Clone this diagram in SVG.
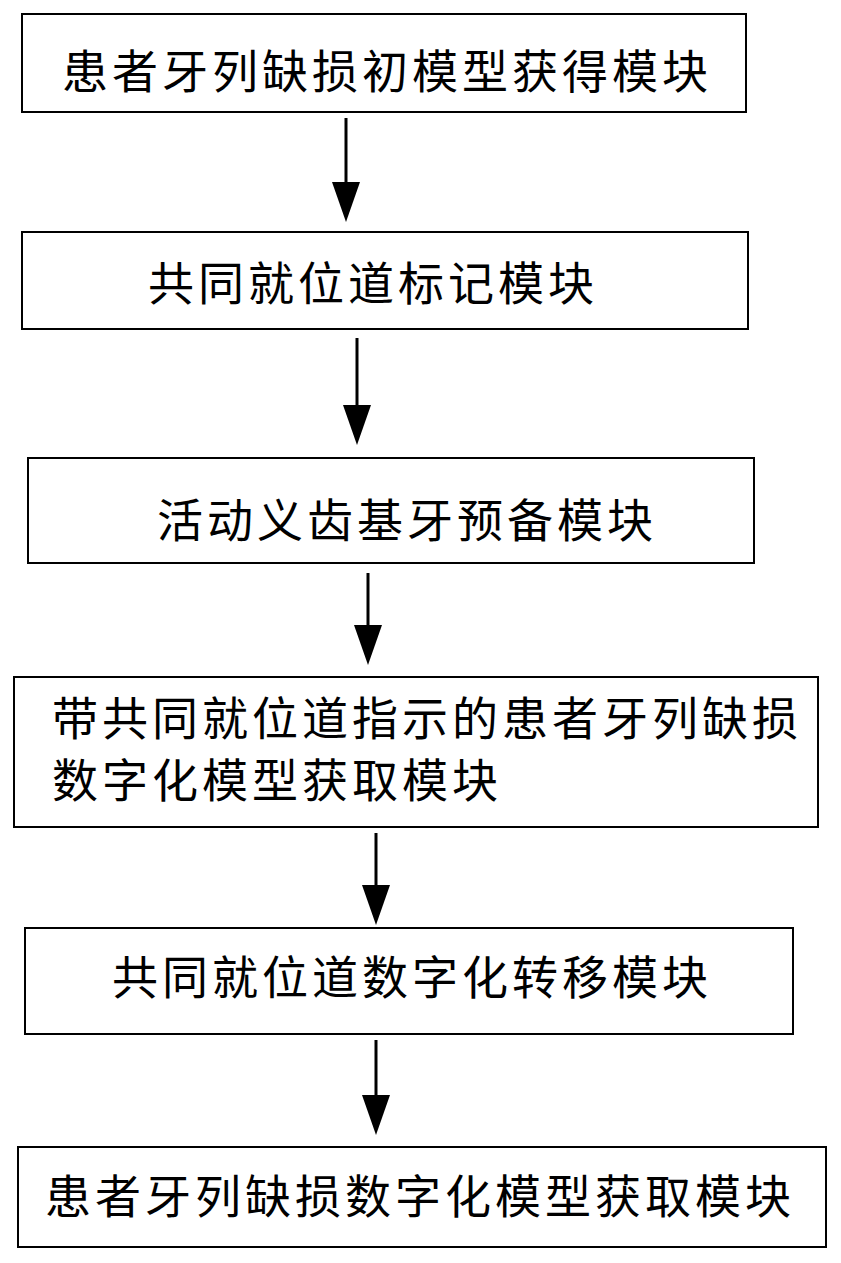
<svg xmlns="http://www.w3.org/2000/svg" width="841" height="1263" viewBox="0 0 841 1263">
<style>
rect{fill:#fff;stroke:#000;stroke-width:2}
text{font-family:"Noto Sans CJK SC","Liberation Sans",sans-serif;font-size:46px;letter-spacing:4px;fill:#000}
line{stroke:#000;stroke-width:3}
polygon{fill:#000}
</style>
<rect x="0" y="0" width="841" height="1263" style="stroke:none"/>
<g id="n1"><rect x="22" y="14" width="724" height="98"/><text x="62" y="88">患者牙列缺损初模型获得模块</text></g>
<g id="n2"><rect x="22" y="232" width="726" height="97"/><text x="148" y="300">共同就位道标记模块</text></g>
<g id="n3"><rect x="28" y="458" width="726" height="105"/><text x="157" y="537">活动义齿基牙预备模块</text></g>
<g id="n4"><rect x="14" y="677" width="804" height="150"/><text x="52" y="735">带共同就位道指示的患者牙列缺损</text><text x="52" y="797">数字化模型获取模块</text></g>
<g id="n5"><rect x="25" y="928" width="768" height="106"/><text x="112" y="994">共同就位道数字化转移模块</text></g>
<g id="n6"><rect x="18" y="1147" width="808" height="100"/><text x="45" y="1213">患者牙列缺损数字化模型获取模块</text></g>
<g id="connectors">
<line x1="346" y1="118" x2="346" y2="185"/><polygon points="332,182 360,182 346,222"/>
<line x1="357" y1="338" x2="357" y2="408"/><polygon points="343,405 371,405 357,445"/>
<line x1="368" y1="573" x2="368" y2="628"/><polygon points="354,625 382,625 368,665"/>
<line x1="376" y1="833" x2="376" y2="888"/><polygon points="362,885 390,885 376,925"/>
<line x1="376" y1="1040" x2="376" y2="1098"/><polygon points="362,1095 390,1095 376,1135"/>
</g>
</svg>
